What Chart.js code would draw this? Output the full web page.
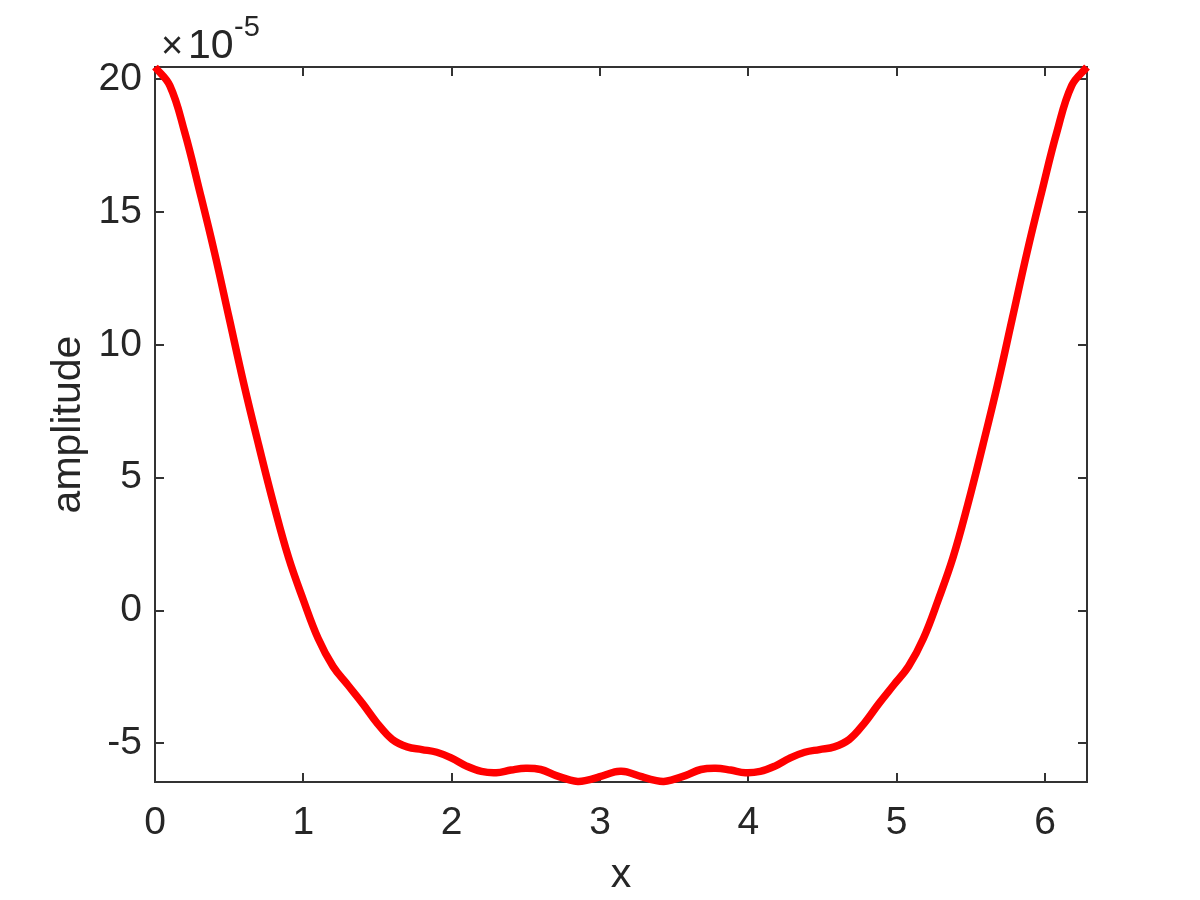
<!DOCTYPE html>
<html>
<head>
<meta charset="utf-8">
<title>amplitude</title>
<script src="https://cdn.jsdelivr.net/npm/chart.js@4/dist/chart.umd.min.js"></script>
<style>
  body { margin: 0; background: #fff; }
  canvas { display: block; }
</style>
</head>
<body>
<canvas id="ampCanvas" width="1200" height="900"></canvas>
<script>
'use strict';

// values, amplitude in units of 1e-5
const xValues = [0, 0.1, 0.2, 0.3, 0.4, 0.5, 0.6, 0.7, 0.8, 0.9,
    1.0, 1.1, 1.2, 1.3, 1.4, 1.5, 1.6, 1.7, 1.8, 1.9,
    2.0, 2.1, 2.2, 2.3, 2.4, 2.5, 2.6, 2.7, 2.8, 2.85, 2.9, 3.0, 3.1, 3.1416,
    3.18, 3.28, 3.38, 3.43, 3.48, 3.58, 3.68, 3.78, 3.88, 3.98,
    4.08, 4.18, 4.28, 4.38, 4.48, 4.58, 4.68, 4.78, 4.88, 4.98,
    5.08, 5.18, 5.28, 5.38, 5.48, 5.58, 5.68, 5.78, 5.88, 5.98,
    6.08, 6.18, 6.2832];
const amplitude = [20.45, 19.75, 18.0, 15.8, 13.5, 11.0, 8.5, 6.2, 4.0, 2.0,
    0.4, -1.05, -2.1, -2.8, -3.5, -4.25, -4.85, -5.13, -5.23, -5.33,
    -5.55, -5.85, -6.05, -6.1, -6.0, -5.93, -5.98, -6.2, -6.38, -6.43, -6.4, -6.25, -6.07, -6.05,
    -6.07, -6.25, -6.4, -6.43, -6.38, -6.2, -5.98, -5.93, -6.0, -6.1,
    -6.05, -5.85, -5.55, -5.33, -5.23, -5.13, -4.85, -4.25, -3.5, -2.8,
    -2.1, -1.05, 0.4, 2.0, 4.0, 6.2, 8.5, 11.0, 13.5, 15.8,
    18.0, 19.75, 20.45];
const xTicks = [0, 1, 2, 3, 4, 5, 6];
const yTicks = [-5, 0, 5, 10, 15, 20];
const exponent = '-5';

const textColor = '#262626';
const axisColor = '#333333';
const fontFamily = '"Liberation Sans", Arial, Helvetica, sans-serif';

// matlab style box with inward ticks and the x10^-5 multiplier
const matlabAxes = {
    id: 'matlabAxes',
    beforeDatasetsDraw(chart) {
        const ctx = chart.ctx;
        const area = chart.chartArea;
        const xs = chart.scales.x;
        const ys = chart.scales.y;
        const tickLen = 9;
        ctx.save();
        ctx.strokeStyle = axisColor;
        ctx.lineWidth = 2;
        ctx.strokeRect(area.left, area.top, area.right - area.left, area.bottom - area.top);
        ctx.beginPath();
        for (let i = 0; i < xTicks.length; i++) {
            const px = Math.round(xs.getPixelForValue(xTicks[i]));
            ctx.moveTo(px, area.bottom);
            ctx.lineTo(px, area.bottom - tickLen);
            ctx.moveTo(px, area.top);
            ctx.lineTo(px, area.top + tickLen);
        }
        for (let i = 0; i < yTicks.length; i++) {
            const py = Math.round(ys.getPixelForValue(yTicks[i]));
            ctx.moveTo(area.left, py);
            ctx.lineTo(area.left + tickLen, py);
            ctx.moveTo(area.right, py);
            ctx.lineTo(area.right - tickLen, py);
        }
        ctx.stroke();
        ctx.restore();
    },
    afterDraw(chart) {
        const ctx = chart.ctx;
        const area = chart.chartArea;
        ctx.save();
        ctx.fillStyle = textColor;
        ctx.textBaseline = 'alphabetic';
        ctx.textAlign = 'left';
        ctx.font = '38px ' + fontFamily;
        ctx.fillText('\u00d7', area.left + 6, area.top - 9);
        ctx.font = '41px ' + fontFamily;
        ctx.fillText('10', area.left + 33, area.top - 9);
        ctx.font = '29px ' + fontFamily;
        ctx.fillText(exponent, area.left + 79, area.top - 31);
        ctx.restore();
    }
};

const points = [];
for (let i = 0; i < xValues.length; i++) {
    points.push({x: xValues[i], y: amplitude[i]});
}

const context = document.getElementById('ampCanvas').getContext('2d');
const chart = new Chart(context, {
    type: 'line',
    data: {
        datasets: [{
            label: 'amplitude',
            data: points,
            borderColor: '#ff0000',
            borderWidth: 7.5,
            pointRadius: 0,
            fill: false,
            tension: 0.4,
            clip: false
        }]
    },
    options: {
        responsive: false,
        animation: false,
        layout: {
            padding: {top: 67, right: 113, left: 0, bottom: 0}
        },
        plugins: {
            legend: {display: false},
            tooltip: {enabled: false}
        },
        scales: {
            x: {
                type: 'linear',
                min: 0,
                max: 6.2832,
                afterBuildTicks: (scale) => {
                    scale.ticks = xTicks.map(v => ({value: v}));
                },
                afterFit: (scale) => {
                    scale.height = 118;
                },
                grid: {display: false},
                border: {display: false},
                ticks: {
                    color: textColor,
                    padding: 10,
                    maxRotation: 0,
                    font: {family: fontFamily, size: 39}
                },
                title: {
                    display: true,
                    text: 'x',
                    color: textColor,
                    padding: {top: 0, bottom: 0},
                    font: {family: fontFamily, size: 41}
                }
            },
            y: {
                type: 'linear',
                min: -6.45,
                max: 20.45,
                afterBuildTicks: (scale) => {
                    scale.ticks = yTicks.map(v => ({value: v}));
                },
                afterFit: (scale) => {
                    scale.width = 155;
                },
                grid: {display: false},
                border: {display: false},
                ticks: {
                    color: textColor,
                    padding: 5,
                    font: {family: fontFamily, size: 39}
                },
                title: {
                    display: true,
                    text: 'amplitude',
                    color: textColor,
                    padding: {top: 44, bottom: 0},
                    font: {family: fontFamily, size: 41}
                }
            }
        }
    },
    plugins: [matlabAxes]
});
</script>
</body>
</html>
